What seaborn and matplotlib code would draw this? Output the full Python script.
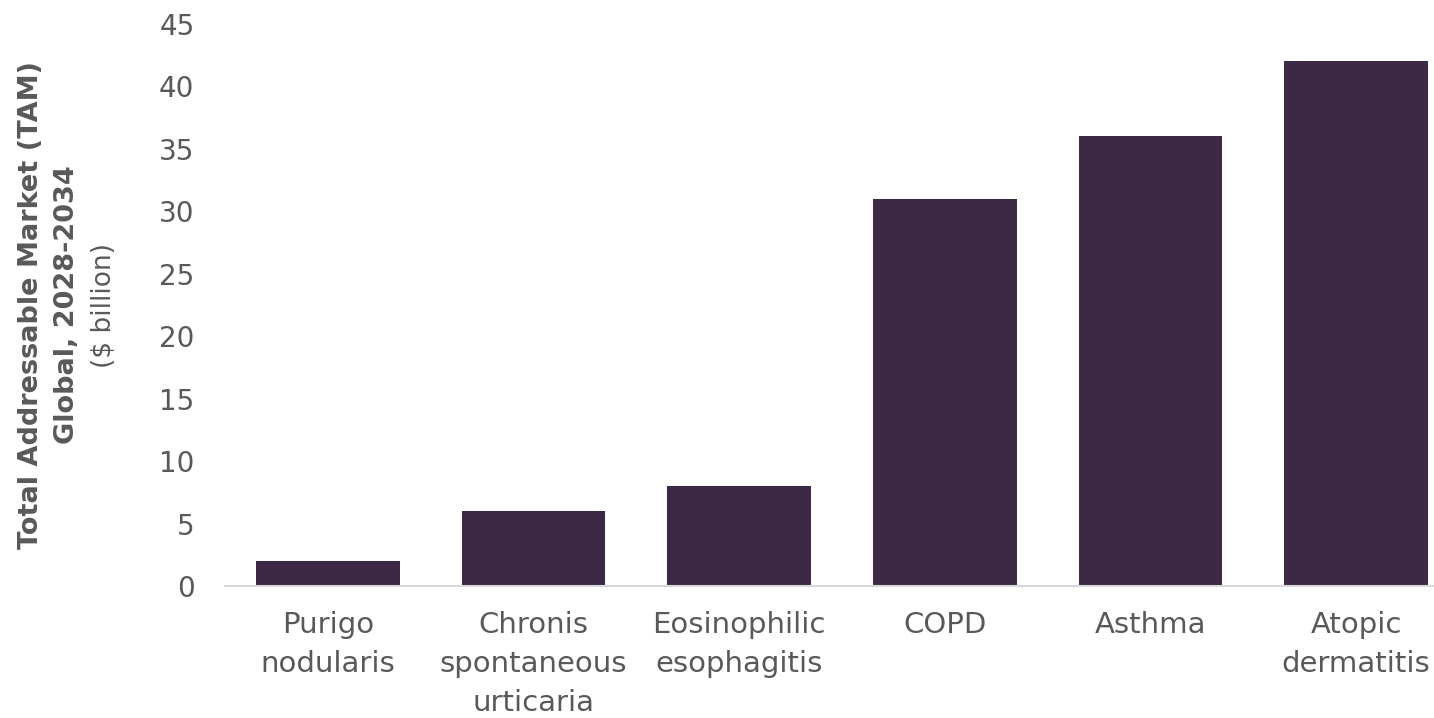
import matplotlib
matplotlib.use("Agg")
import matplotlib.pyplot as plt
import seaborn as sns
import pandas as pd

categories = [
    "Purigo\nnodularis",
    "Chronis\nspontaneous\nurticaria",
    "Eosinophilic\nesophagitis",
    "COPD",
    "Asthma",
    "Atopic\ndermatitis",
]
tam_billion = [2, 6, 8, 31, 36, 42]
y_ticks = [0, 5, 10, 15, 20, 25, 30, 35, 40, 45]

sns.set_theme(style="white")
plt.rcParams["font.family"] = ["DejaVu Sans"]

text_gray = "#595959"
bar_color = "#3D2846"

df = pd.DataFrame({"condition": categories, "tam": tam_billion})

fig = plt.figure(figsize=(14.34, 7.18), dpi=100)
ax = fig.add_axes([225 / 1434, 132 / 718, (1459 - 225) / 1434, (586 - 24) / 718])

sns.barplot(data=df, x="condition", y="tam", color=bar_color, saturation=1,
            width=0.7, ax=ax, edgecolor="none")

ax.set_ylim(0, 45)
ax.set_xlim(-0.5, len(categories) - 0.5)
ax.set_yticks(y_ticks)
ax.set_yticklabels([str(t) for t in y_ticks])
ax.tick_params(axis="y", length=0, pad=22, labelsize=20, labelcolor=text_gray)
ax.tick_params(axis="x", length=0, pad=18, labelsize=21, labelcolor=text_gray)
for lbl in ax.get_xticklabels():
    lbl.set_linespacing(1.5)

for side in ["top", "right", "left"]:
    ax.spines[side].set_visible(False)
ax.spines["bottom"].set_color("#D9D9D9")
ax.spines["bottom"].set_linewidth(1.5)

ax.set_xlabel("")
ax.set_ylabel("")

# three-line axis title: two bold lines and a units line
fig.text(31 / 1434, 1 - 305 / 718, "Total Addressable Market (TAM)", rotation=90,
         ha="center", va="center", fontsize=19.5, fontweight="bold", color=text_gray)
fig.text(67 / 1434, 1 - 305 / 718, "Global, 2028-2034", rotation=90,
         ha="center", va="center", fontsize=19.5, fontweight="bold", color=text_gray)
fig.text(104 / 1434, 1 - 305 / 718, "($ billion)", rotation=90,
         ha="center", va="center", fontsize=19, color=text_gray)

fig.savefig("out.png", dpi=100)
